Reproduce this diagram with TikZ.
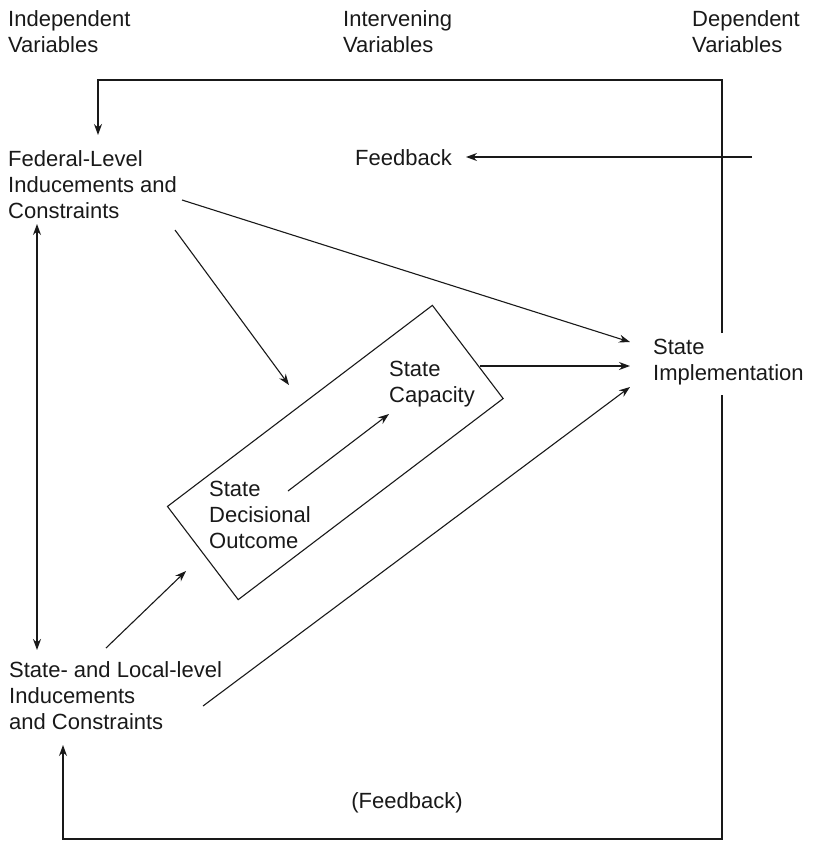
\documentclass[tikz,border=0pt]{standalone}
\usepackage{fontspec}
\setmainfont{Liberation Sans}
\usetikzlibrary{arrows.meta}
\begin{document}
\begin{tikzpicture}[x=1pt,y=-1pt,
  lbl/.style={anchor=north west,inner sep=0pt,align=left,text=black!90,
    font=\fontsize{22}{26}\selectfont},
  conn/.style={line width=1.1pt,draw=black!90},
  arr/.style={conn,-{Stealth[length=11pt,width=8pt]}},
  darr/.style={conn,{Stealth[length=11pt,width=8pt]}-{Stealth[length=11pt,width=8pt]}},
  boxst/.style={draw=black!90,line width=1.1pt,rotate=37.2,minimum width=332.6pt,minimum height=117pt,inner sep=0pt}
]
\useasboundingbox (0,0) rectangle (815,841);

% headers
\node[lbl] (indep) at (8,10) {Independent\\Variables};
\node[lbl] (interv) at (343,10) {Intervening\\Variables};
\node[lbl] (dep) at (692,10) {Dependent\\Variables};

% main text nodes
\node[lbl] (fed) at (8,150) {Federal-Level\\Inducements and\\Constraints};
\node[lbl] (fb) at (355,149) {Feedback};
\node[lbl] (impl) at (653,339) {State\\Implementation};
\node[boxst] (box) at (335.3,452.5) {};
\node[lbl] (cap) at (389,361) {State\\Capacity};
\node[lbl] (sdo) at (209,481) {State\\Decisional\\Outcome};
\node[lbl] (sl) at (9,661) {State- and Local-level\\Inducements\\and Constraints};
\node[anchor=center,inner sep=0pt,text=black!90,font=\fontsize{22}{26}\selectfont] (fb2) at (407,803) {(Feedback)};

% connector end points
\coordinate (tl) at (98,80);
\coordinate (tr) at (722,80);
\coordinate (fedtop) at (98,135);
\coordinate (implup) at (722,333);
\coordinate (impldn) at (722,395);
\coordinate (br) at (722,839);
\coordinate (bl) at (63,839);
\coordinate (sltop) at (63,745);
\coordinate (fbsrc) at (752,157);
\coordinate (fbin) at (466,157);
\coordinate (fedbot) at (37,224);
\coordinate (sltip) at (37,650);
\coordinate (fedR) at (182,200);
\coordinate (fedD) at (175,230);
\coordinate (implA) at (630,342);
\coordinate (implB) at (630,366);
\coordinate (implC) at (630,387);
\coordinate (capR) at (480,366);
\coordinate (boxTL) at (289,385);
\coordinate (sdoR) at (288,491);
\coordinate (capL) at (389,414);
\coordinate (slR) at (106,648);
\coordinate (boxBL) at (186,571);
\coordinate (slE) at (203,706);

% feedback loops
\draw[arr] (implup) -- (tr) -- (tl) -- (fedtop);
\draw[arr] (fbsrc) -- (fbin);
\draw[arr] (impldn) -- (br) -- (bl) -- (sltop);

% causal arrows
\draw[darr] (fedbot) -- (sltip);
\draw[arr] (fedR) -- (implA);
\draw[arr] (capR) -- (implB);
\draw[arr] (slE) -- (implC);
\draw[arr] (fedD) -- (boxTL);
\draw[arr] (sdoR) -- (capL);
\draw[arr] (slR) -- (boxBL);
\end{tikzpicture}
\end{document}
